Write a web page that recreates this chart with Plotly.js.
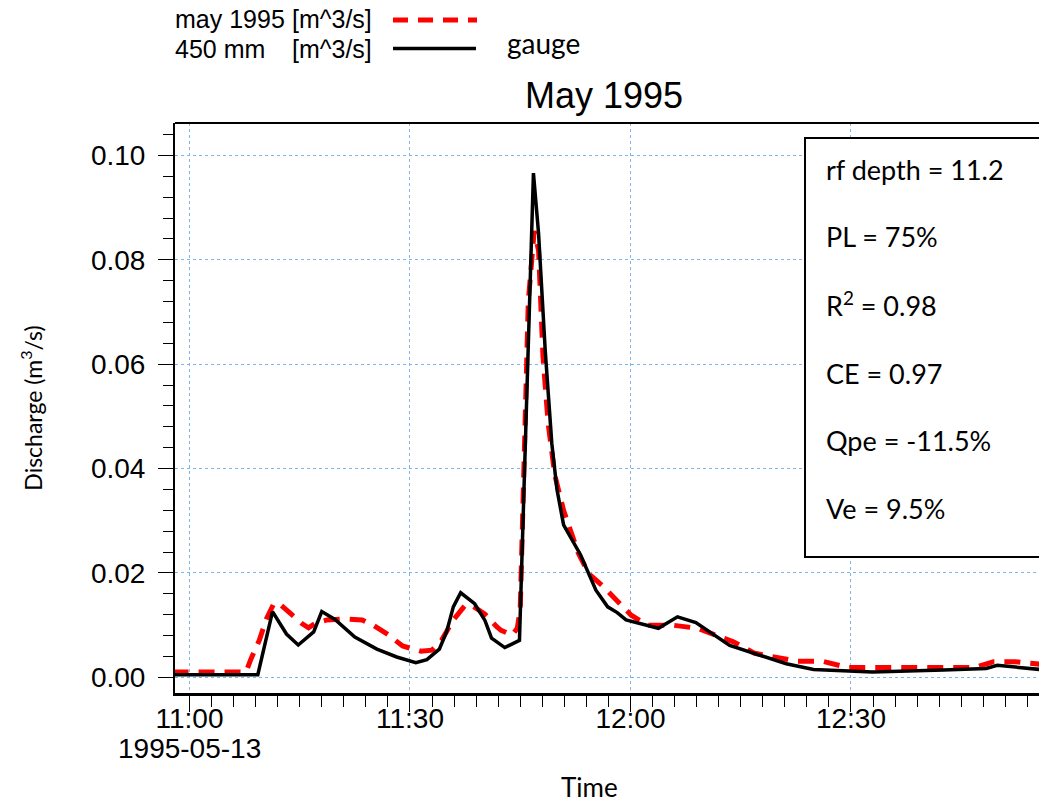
<!DOCTYPE html>
<html>
<head>
<meta charset="utf-8">
<script src="https://cdn.plot.ly/plotly-3.0.1.min.js"></script>
<style>html,body{margin:0;padding:0;background:#fff;}#chart{width:1039px;height:805px;}</style>
</head>
<body>
<div id="chart"></div>
<script>
// ---- data ----
var day = "1995-05-13";
var modelTimes = ["10:57:42","11:07:42","11:08:18","11:09:30","11:10:30","11:11:30","11:12:24","11:13:54","11:15:18","11:16:12","11:17:12","11:18:42","11:21:00","11:23:30","11:25:00","11:27:00","11:29:00","11:30:30","11:31:30","11:33:00","11:34:18","11:35:54","11:37:30","11:38:24","11:40:12","11:41:48","11:42:24","11:43:54","11:44:36","11:45:00","11:45:36","11:46:06","11:46:54","11:47:30","11:48:06","11:48:48","11:49:42","11:50:54","11:52:54","11:54:18","11:56:18","11:58:24","12:00:06","12:02:18","12:05:42","12:09:06","12:11:30","12:14:00","12:16:54","12:19:48","12:22:42","12:26:06","12:29:30","12:46:54","12:49:24","12:52:18","12:56:30"];
var modelQ = [0.0010,0.0010,0.0033,0.0071,0.0113,0.0142,0.0139,0.0119,0.0103,0.0095,0.0104,0.0110,0.0112,0.0110,0.0100,0.0082,0.0060,0.0054,0.0050,0.0052,0.0071,0.0110,0.0138,0.0138,0.0121,0.0097,0.0090,0.0081,0.0094,0.0130,0.0500,0.0720,0.0855,0.0818,0.0614,0.0487,0.0388,0.0320,0.0238,0.0199,0.0174,0.0145,0.0119,0.0100,0.0100,0.0094,0.0081,0.0068,0.0046,0.0039,0.0031,0.0031,0.0019,0.0019,0.0030,0.0030,0.0024];

var gaugeTimes = ["10:57:48","11:09:18","11:11:18","11:13:12","11:14:48","11:16:54","11:18:00","11:19:48","11:22:30","11:25:30","11:28:12","11:30:48","11:32:18","11:34:00","11:35:00","11:35:54","11:36:54","11:38:48","11:40:12","11:41:06","11:42:54","11:44:54","11:46:48","11:47:30","11:48:24","11:49:18","11:50:00","11:50:54","11:53:12","11:55:18","11:56:54","11:58:12","11:59:24","12:03:48","12:06:24","12:08:54","12:13:30","12:17:36","12:21:12","12:24:54","12:32:54","12:42:36","12:48:24","12:49:54","12:56:30"];
var gaugeQ = [0.0005,0.0005,0.0126,0.0083,0.0062,0.0087,0.0126,0.0111,0.0077,0.0054,0.0039,0.0028,0.0034,0.0054,0.0088,0.0135,0.0162,0.0141,0.0109,0.0075,0.0057,0.0071,0.0966,0.0850,0.0627,0.0448,0.0360,0.0292,0.0235,0.0167,0.0135,0.0124,0.0110,0.0094,0.0116,0.0105,0.0061,0.0042,0.0026,0.0015,0.0010,0.0014,0.0017,0.0023,0.0014];

var statLines = ["rf depth = 11.2","PL = 75%","R<sup>2</sup> = 0.98","CE = 0.97","Qpe = -11.5%","Ve = 9.5%"];
var legendModelA = "may 1995";
var legendModelB = "[m^3/s]";
var legendGaugeA = "450 mm";
var legendGaugeB = "[m^3/s]";
var legendGaugeLabel = "gauge";
var chartTitle = "May 1995";
var xTitle = "Time";
var yTitle = "Discharge (m<sup>3</sup>/s)";

function stamp(t){ return day + " " + t; }

// ---- geometry helpers (pixel -> paper) ----
var W = 1039, H = 805, L = 175, R = 0, T = 123, B = 112;
var pw = W - L - R, ph = H - T - B;
function px(x){ return (x - L) / pw; }
function py(y){ return (H - B - y) / ph; }

var arial = "Liberation Sans, Arial, sans-serif";
var calibri = "Lato, Carlito, sans-serif";

var traces = [
  {x: modelTimes.map(stamp), y: modelQ, type: "scatter", mode: "lines", name: legendModelA,
   line: {color: "#ff0000", width: 5, dash: "16px,10px"}, showlegend: false},
  {x: gaugeTimes.map(stamp), y: gaugeQ, type: "scatter", mode: "lines", name: legendGaugeA,
   line: {color: "#000000", width: 3.5}, showlegend: false}
];

var statY = [169, 237, 304, 373, 440, 508];
var annotations = statLines.map(function(s, i){
  return {xref: "paper", yref: "paper", x: px(824), y: py(statY[i]), xanchor: "left", yanchor: "middle",
    text: s, showarrow: false, font: {family: calibri, size: 27, color: "#000"}};
});
annotations.push(
  {xref: "paper", yref: "paper", x: px(173), y: py(19), xanchor: "left", yanchor: "middle", text: legendModelA, showarrow: false, font: {family: arial, size: 25, color: "#000"}},
  {xref: "paper", yref: "paper", x: px(374), y: py(19), xanchor: "right", yanchor: "middle", text: legendModelB, showarrow: false, font: {family: arial, size: 25, color: "#000"}},
  {xref: "paper", yref: "paper", x: px(173), y: py(49), xanchor: "left", yanchor: "middle", text: legendGaugeA, showarrow: false, font: {family: arial, size: 25, color: "#000"}},
  {xref: "paper", yref: "paper", x: px(374), y: py(49), xanchor: "right", yanchor: "middle", text: legendGaugeB, showarrow: false, font: {family: arial, size: 25, color: "#000"}},
  {xref: "paper", yref: "paper", x: px(505), y: py(43), xanchor: "left", yanchor: "middle", text: legendGaugeLabel, showarrow: false, font: {family: calibri, size: 28, color: "#000"}},
  {xref: "x", yref: "paper", x: stamp("11:00:00"), y: py(748), xanchor: "center", yanchor: "middle", text: day, showarrow: false, font: {family: arial, size: 28, color: "#000"}},
  {xref: "paper", yref: "paper", x: px(589), y: py(787), xanchor: "center", yanchor: "middle", borderpad: 0, text: xTitle, showarrow: false, font: {family: calibri, size: 26, color: "#000"}}
);

var shapes = [
  {type: "line", xref: "paper", yref: "paper", x0: 0, x1: 1, y0: 1, y1: 1, line: {color: "#000", width: 2}},
  {type: "rect", xref: "paper", yref: "paper", x0: px(805), x1: 1.05, y0: py(557), y1: py(138), fillcolor: "#fff", line: {color: "#000", width: 2}, layer: "above"},
  {type: "line", xref: "paper", yref: "paper", x0: px(393), x1: px(477), y0: py(20), y1: py(20), line: {color: "#ff0000", width: 5, dash: "15px,10px"}},
  {type: "line", xref: "paper", yref: "paper", x0: px(393), x1: px(476), y0: py(48.5), y1: py(48.5), line: {color: "#000", width: 3.5}}
];

var layout = {
  width: W, height: H,
  margin: {l: L, r: R, t: T, b: B, pad: 0},
  paper_bgcolor: "#fff", plot_bgcolor: "#fff",
  showlegend: false,
  title: {text: chartTitle, font: {family: arial, size: 36, color: "#000"}, xref: "container", yref: "container", x: 604 / W, y: 1 - 95 / H, xanchor: "center", yanchor: "middle"},
  xaxis: {
    type: "date",
    range: [stamp("10:58:02"), stamp("12:55:35")],
    tickmode: "linear", tick0: stamp("11:00:00"), dtick: 1800000, tickformat: "%H:%M",
    ticks: "outside", ticklen: 16, tickwidth: 1, tickcolor: "#000",
    minor: {tick0: stamp("11:00:00"), dtick: 180000, ticks: "outside", ticklen: 11, tickwidth: 1, tickcolor: "#000", showgrid: false},
    showline: true, linecolor: "#000", linewidth: 3, mirror: false,
    showgrid: true, gridcolor: "#80b4ec", gridwidth: 1, griddash: "dot",
    zeroline: false,
    tickfont: {family: arial, size: 28, color: "#000"},
    ticklabelstandoff: -18
  },
  yaxis: {
    range: [-0.003, 0.1062],
    tickmode: "linear", tick0: 0, dtick: 0.02, tickformat: ".2f",
    ticks: "outside", ticklen: 15, tickwidth: 1, tickcolor: "#000",
    minor: {tick0: 0, dtick: 0.004, ticks: "outside", ticklen: 10, tickwidth: 1, tickcolor: "#000", showgrid: false},
    showline: true, linecolor: "#000", linewidth: 2,
    showgrid: true, gridcolor: "#80b4ec", gridwidth: 1, griddash: "dot",
    zeroline: false,
    tickfont: {family: arial, size: 28, color: "#000"},
    ticklabelstandoff: 7,
    title: {text: yTitle, font: {family: calibri, size: 23, color: "#000"}, standoff: 42}
  },
  annotations: annotations,
  shapes: shapes
};

Plotly.newPlot("chart", traces, layout, {displayModeBar: false, staticPlot: true});
</script>
</body>
</html>
